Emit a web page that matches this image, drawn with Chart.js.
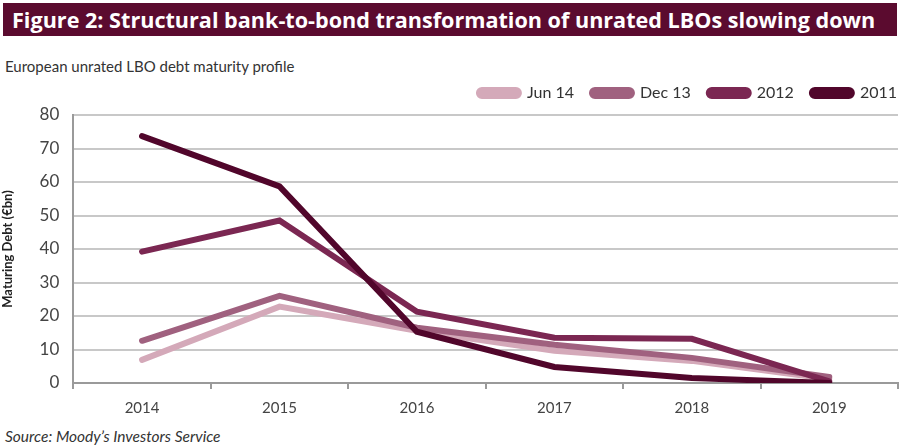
<!DOCTYPE html>
<html>
<head>
<meta charset="utf-8">
<script src="https://cdn.jsdelivr.net/npm/chart.js@4"></script>
<style>
  html, body { margin:0; padding:0; background:#fff; width:900px; height:446px; overflow:hidden; font-family: Lato, "Open Sans", sans-serif; }
  #banner { position:absolute; left:3px; top:3px; width:894px; height:33px; background:#5b0b2f; color:#fff; font-family:"Open Sans", Lato, sans-serif; font-weight:700; font-size:21.6px; line-height:33px; padding-left:9px; box-sizing:border-box; white-space:nowrap; }
  #subtitle { position:absolute; left:5px; top:57px; font-size:15px; color:#333; }
  #source { position:absolute; left:5px; top:427px; font-size:15.5px; font-style:italic; color:#333; }
  #wrap { position:absolute; left:0; top:67px; width:900px; height:360px; }
</style>
</head>
<body>
<div id="banner">Figure 2: Structural bank-to-bond transformation of unrated LBOs slowing down</div>
<div id="subtitle">European unrated LBO debt maturity profile</div>
<div id="wrap"><canvas id="c"></canvas></div>
<div id="source">Source: Moody’s Investors Service</div>
<script>
const categories = ["2014", "2015", "2016", "2017", "2018", "2019"];
const seriesNames = ["Jun 14", "Dec 13", "2012", "2011"];
const jun14 = [6.9, 22.8, 15.6, 9.6, 6.6, 1.2];
const dec13 = [12.6, 26.0, 16.5, 11.4, 7.5, 1.8];
const y2012 = [39.2, 48.5, 21.3, 13.5, 13.2, 0.5];
const y2011 = [73.7, 58.7, 15.3, 4.8, 1.5, 0.0];
const yTicks = [0, 10, 20, 30, 40, 50, 60, 70, 80];

const colors = ["#d4a9b9", "#a0617f", "#7b2752", "#51062b"];
const values = [jun14, dec13, y2012, y2011];

const datasets = values.map((v, i) => ({
  label: seriesNames[i],
  data: v,
  borderColor: colors[i],
  backgroundColor: colors[i],
  borderWidth: 6,
  pointRadius: 0,
  tension: 0,
  fill: false,
  borderCapStyle: 'round',
  borderJoinStyle: 'miter',
  order: 4 - i
}));

const LEGEND_SHIFT = 17;
const legendTweak = {
  id: 'legendTweak',
  beforeInit(chart) {
    const lg = chart.legend;
    const orig = lg.fit;
    lg.fit = function () {
      orig.call(this);
      this.height += 4;
    };
  },
  afterLayout(chart) { chart.legend._shifted = false; },
  beforeDraw(chart) {
    const lg = chart.legend;
    if (!lg._shifted) {
      lg.left += LEGEND_SHIFT;
      lg.right += LEGEND_SHIFT;
      lg._shifted = true;
    }
  }
};

new Chart(document.getElementById('c'), {
  type: 'line',
  data: { labels: categories, datasets },
  plugins: [legendTweak],
  options: {
    responsive: true,
    maintainAspectRatio: false,
    animation: false,
    layout: { padding: { left: 0, right: 2, top: 0, bottom: 0 } },
    plugins: {
      tooltip: { enabled: false },
      legend: {
        position: 'top',
        align: 'end',
        labels: {
          sort: (a, b) => a.datasetIndex - b.datasetIndex,
          boxWidth: 40,
          boxHeight: 6,
          useBorderRadius: true,
          borderRadius: 3,
          color: '#333',
          font: { family: 'Lato', size: 16 },
          padding: 18
        }
      }
    },
    scales: {
      x: {
        offset: true,
        grid: { offset: true, drawOnChartArea: false, drawTicks: true, tickLength: 6, color: '#9a9a9a', lineWidth: 2 },
        border: { color: '#9a9a9a', width: 2 },
        ticks: { color: '#444', font: { family: 'Lato', size: 15 }, padding: 10 }
      },
      y: {
        min: 0, max: 80,
        afterBuildTicks: (axis) => { axis.ticks = yTicks.map(v => ({ value: v })); },
        grid: { color: '#c8c8c8', lineWidth: 2, drawTicks: false },
        border: { color: '#9a9a9a', width: 2 },
        ticks: { color: '#444', font: { family: 'Lato', size: 17 }, padding: 14 },
        title: { display: true, text: 'Maturing Debt (€bn)', color: '#222', font: { family: 'Lato', size: 13, weight: 'bold' }, padding: { top: 0, bottom: 10 } }
      }
    }
  }
});
</script>
</body>
</html>
